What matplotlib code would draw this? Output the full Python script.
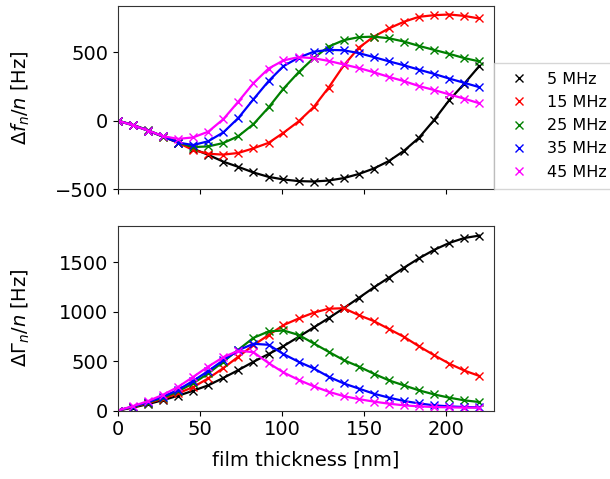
import matplotlib
matplotlib.use("Agg")
import matplotlib.pyplot as plt

# film thickness grid [nm]
thickness = [0, 9.2, 18.3, 27.5, 36.7, 45.8, 55.0, 64.2, 73.3, 82.5, 91.7, 100.8,
             110.0, 119.2, 128.3, 137.5, 146.7, 155.8, 165.0, 174.2, 183.3, 192.5,
             201.7, 210.8, 220.0]

labels = ["5 MHz", "15 MHz", "25 MHz", "35 MHz", "45 MHz"]
colors = ["black", "red", "green", "blue", "magenta"]

# frequency shift per overtone, delta f_n / n [Hz]
df_5 = [0, -30, -70, -115, -160, -205, -250, -300, -338, -379, -411, -430,
        -442, -445, -438, -420, -390, -350, -295, -220, -125, 5, 150, 270, 400]
df_15 = [0, -33, -72, -117, -162, -215, -242, -248, -236, -202, -162, -88,
         -5, 100, 243, 405, 535, 616, 676, 725, 761, 773, 778, 768, 749]
df_25 = [0, -33, -72, -117, -160, -193, -188, -163, -113, -25, 97, 235,
         355, 459, 543, 590, 612, 616, 604, 580, 548, 519, 490, 459, 435]
df_35 = [0, -33, -72, -115, -160, -178, -150, -85, 20, 157, 290, 400,
         462, 505, 519, 516, 495, 466, 435, 406, 374, 343, 309, 278, 246]
df_45 = [0, -33, -72, -113, -133, -122, -80, 12, 140, 275, 382, 442,
         466, 458, 438, 412, 386, 355, 321, 290, 254, 225, 193, 162, 128]

# dissipation shift per overtone, delta Gamma_n / n [Hz]
dg_5 = [0, 30, 65, 105, 150, 200, 255, 330, 409, 493, 571, 652,
        745, 840, 935, 1035, 1140, 1245, 1345, 1445, 1540, 1625, 1695, 1745, 1770]
dg_15 = [0, 35, 75, 120, 175, 237, 325, 430, 544, 662, 763, 864,
         931, 990, 1030, 1035, 965, 905, 825, 745, 650, 560, 475, 405, 350]
dg_25 = [0, 38, 80, 130, 195, 275, 375, 495, 615, 735, 800, 810,
         765, 679, 594, 510, 445, 372, 305, 254, 204, 163, 130, 103, 86]
dg_35 = [0, 40, 85, 140, 210, 300, 400, 510, 610, 675, 665, 571,
         493, 426, 342, 274, 222, 170, 130, 96, 72, 52, 42, 35, 32]
dg_45 = [0, 45, 95, 160, 240, 340, 445, 540, 605, 590, 480, 385,
         310, 245, 190, 145, 115, 90, 69, 52, 42, 35, 32, 29, 29]

df_all = [df_5, df_15, df_25, df_35, df_45]
dg_all = [dg_5, dg_15, dg_25, dg_35, dg_45]

plt.rcParams["font.size"] = 14
plt.rcParams["axes.edgecolor"] = "#333333"

fig = plt.figure(figsize=(6.10, 4.79), dpi=100)
ax1 = fig.add_axes([0.1934, 0.6054, 0.6164, 0.382])
ax2 = fig.add_axes([0.1934, 0.143, 0.6164, 0.3858])

for vals, c, lab in zip(df_all, colors, labels):
    ax1.plot(thickness, vals, "x", color=c, markersize=6, label=lab)
    ax1.plot(thickness, vals, "-", color=c, linewidth=1.6)
for vals, c in zip(dg_all, colors):
    ax2.plot(thickness, vals, "x", color=c, markersize=6)
    ax2.plot(thickness, vals, "-", color=c, linewidth=1.6)

for ax in (ax1, ax2):
    ax.set_xlim(0, 229)
    ax.set_xticks([0, 50, 100, 150, 200])
ax1.set_xticklabels([])
ax1.set_ylim(-497, 840)
ax1.set_yticks([-500, 0, 500])
ax2.set_ylim(0, 1870)
ax2.set_yticks([0, 500, 1000, 1500])

ax1.set_ylabel(r"$\Delta f_n/n$ [Hz]")
ax2.set_ylabel(r"$\Delta\Gamma_n/n$ [Hz]")
ax1.yaxis.set_label_coords(-0.229, 0.5)
ax2.yaxis.set_label_coords(-0.229, 0.5)
ax2.set_xlabel("film thickness [nm]", labelpad=8)

ax1.legend(loc="upper left", bbox_to_anchor=(1.0, 0.69), borderaxespad=0,
           frameon=True, fancybox=False, fontsize=11.5, labelspacing=0.52,
           handletextpad=0.8, borderpad=0.55)

fig.savefig("out.png", dpi=100)
